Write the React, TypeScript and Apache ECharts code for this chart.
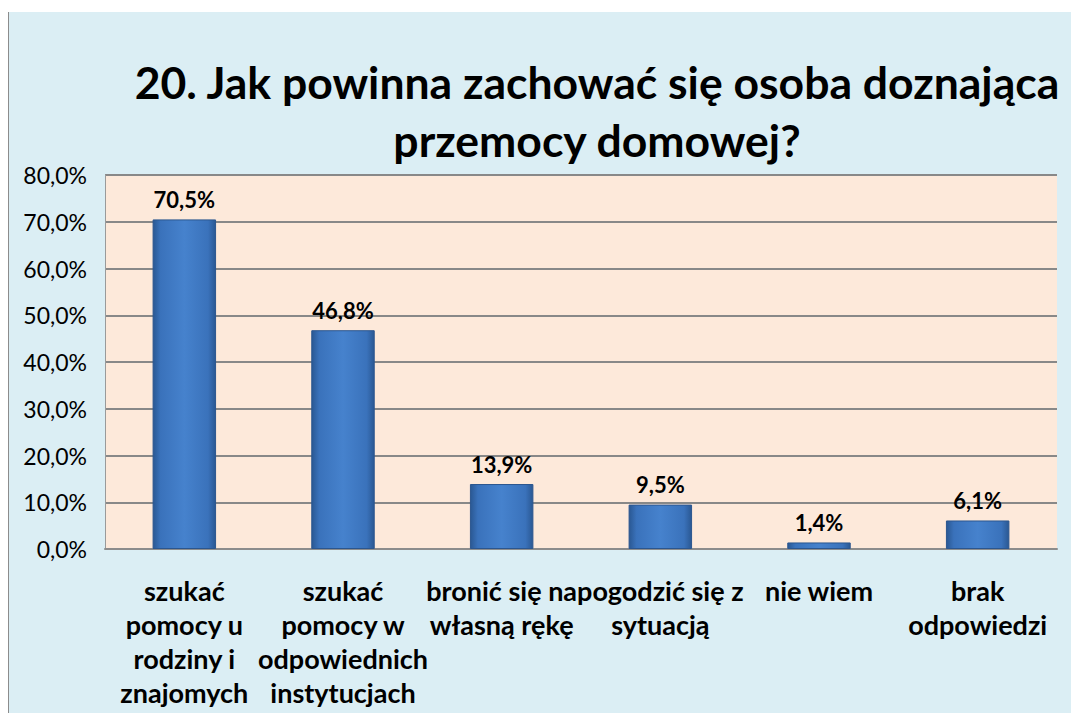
import React, { useEffect, useRef } from "react";
import * as echarts from "echarts";

const titleText = "20. Jak powinna zachować się osoba doznająca\nprzemocy domowej?";
const categories = [
  "szukać\npomocy u\nrodziny i\nznajomych",
  "szukać\npomocy w\nodpowiednich\ninstytucjach",
  "bronić się na\nwłasną rękę",
  "pogodzić się z\nsytuacją",
  "nie wiem",
  "brak\nodpowiedzi",
];
const values = [70.5, 46.8, 13.9, 9.5, 1.4, 6.1];
const yTicks = { min: 0, max: 80, interval: 10 };

const fmt = (v: number) => v.toFixed(1).replace(".", ",") + "%";

export default function App() {
  const ref = useRef<HTMLDivElement>(null);
  useEffect(() => {
    if (!ref.current) return;
    const chart = echarts.init(ref.current, undefined, { renderer: "svg" });
    const font = "Lato, 'Open Sans', sans-serif";
    chart.setOption({
      animation: false,
      backgroundColor: "#ffffff",
      graphic: [
        {
          type: "rect",
          z: -10,
          silent: true,
          shape: { x: 9, y: 12, width: 1062, height: 701 },
          style: { fill: "#DBEEF4" },
        },
        {
          type: "line",
          z: -9,
          silent: true,
          shape: { x1: 8.5, y1: 12, x2: 8.5, y2: 713 },
          style: { stroke: "#8c8c8c", lineWidth: 1 },
        },
      ],
      title: {
        text: titleText,
        left: 592,
        top: 47,
        textAlign: "center",
        textStyle: {
          fontFamily: font,
          fontWeight: "bold",
          fontSize: 44.5,
          lineHeight: 58,
          color: "#000",
        },
      },
      grid: {
        left: 105,
        top: 175,
        right: 14,
        bottom: 164,
        show: true,
        backgroundColor: "#FDE9DA",
        borderWidth: 0,
      },
      xAxis: {
        type: "category",
        data: categories,
        axisLine: { show: true, lineStyle: { color: "#8c8c8c", width: 2 } },
        axisTick: { show: false },
        axisLabel: {
          interval: 0,
          margin: 24,
          color: "#000",
          fontFamily: font,
          fontWeight: "bold",
          fontSize: 27,
          lineHeight: 34,
          verticalAlign: "top",
        },
      },
      yAxis: {
        type: "value",
        min: yTicks.min,
        max: yTicks.max,
        interval: yTicks.interval,
        axisLine: { show: true, lineStyle: { color: "#9a9a9a", width: 1 } },
        axisTick: { show: false },
        splitLine: { show: true, lineStyle: { color: "#888888", width: 2 } },
        axisLabel: {
          margin: 18,
          color: "#000",
          fontFamily: font,
          fontSize: 23,
          formatter: (v: number) => fmt(v),
        },
      },
      series: [
        {
          type: "bar",
          data: values,
          barWidth: "40%",
          itemStyle: {
            color: new echarts.graphic.LinearGradient(0, 0, 1, 0, [
              { offset: 0, color: "#2a5893" },
              { offset: 0.12, color: "#3a72bb" },
              { offset: 0.5, color: "#4682cd" },
              { offset: 0.88, color: "#3a72bb" },
              { offset: 1, color: "#2a5893" },
            ]),
            borderColor: "#2b568f",
            borderWidth: 1,
          },
          label: {
            show: true,
            position: "top",
            distance: 9,
            color: "#000",
            fontFamily: font,
            fontWeight: "bold",
            fontSize: 22,
            formatter: (p: any) => fmt(p.value),
          },
        },
      ],
    });
    return () => chart.dispose();
  }, []);
  return (
    <div
      ref={ref}
      style={{ position: "absolute", left: 0, top: 0, width: 1071, height: 713 }}
    />
  );
}
